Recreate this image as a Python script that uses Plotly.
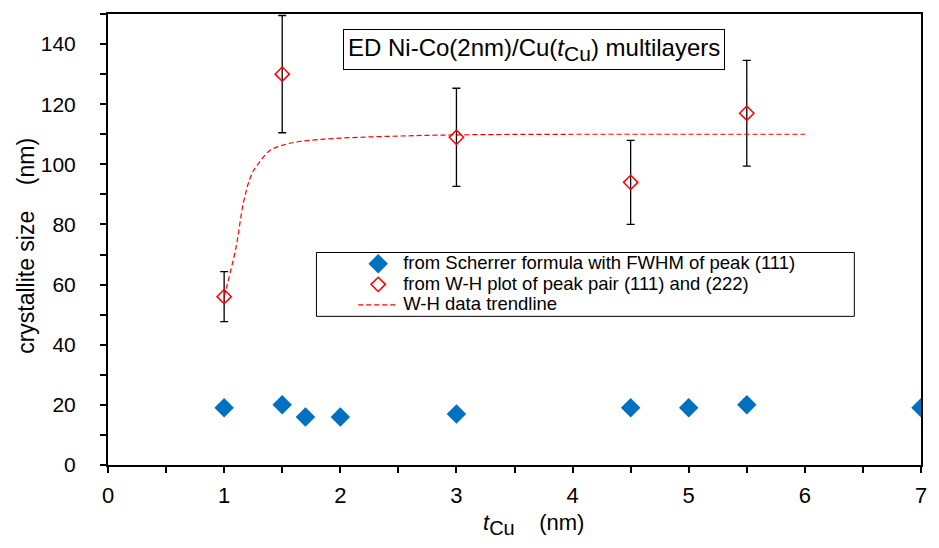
import plotly.graph_objects as go

# Crystallite size from the Scherrer formula (FWHM of the (111) peak)
scherrer_t = [1.0, 1.5, 1.7, 2.0, 3.0, 4.5, 5.0, 5.5, 7.0]
scherrer_size = [19, 20, 16, 16, 17, 19, 19, 20, 19]

# Crystallite size from Williamson-Hall plots of the (111)/(222) pair
wh_t = [1.0, 1.5, 3.0, 4.5, 5.5]
wh_size = [56, 130, 109, 94, 117]
wh_err = [8.3, 19.5, 16.3, 14.0, 17.6]

# Trendline through the W-H data
trend_t = [1.0, 1.1, 1.17, 1.24, 1.3, 1.39, 1.5, 1.65, 2.0, 2.5, 3.0, 4.0, 5.0, 6.0]
trend_size = [56, 72, 88, 97, 100.5, 104.5, 106.3, 107.6, 108.7, 109.4, 109.8, 110, 110, 110]

x_ticks = [0, 1, 2, 3, 4, 5, 6, 7]
y_ticks = [0, 20, 40, 60, 80, 100, 120, 140]

FONT = "Liberation Sans, Arial, sans-serif"
LEGEND_PX = 18.5


def legend_label(text):
    return f'<span style="font-size:{LEGEND_PX}px">{text}</span>'


def t_cu(sub_px):
    return f'<i>t</i><sub><span style="font-size:{sub_px}px">Cu</span></sub>'


fig = go.Figure()

fig.add_trace(go.Scatter(
    x=scherrer_t, y=scherrer_size, mode="markers",
    name=legend_label("from Scherrer formula with FWHM of peak (111)"),
    marker=dict(symbol="diamond", size=15, color="#0070C0"),
))

fig.add_trace(go.Scatter(
    x=wh_t, y=wh_size, mode="markers",
    name=legend_label("from W-H plot of peak pair (111) and (222)"),
    marker=dict(symbol="diamond-open", size=11, color="#FF0000",
                line=dict(width=1.5, color="#FF0000")),
    error_y=dict(type="data", array=wh_err, visible=True,
                 color="black", thickness=1.3, width=4),
))

fig.add_trace(go.Scatter(
    x=trend_t, y=trend_size, mode="lines",
    name=legend_label("W-H data trendline"),
    line=dict(color="#FF0000", width=1.2, dash="5px,3px", shape="spline"),
))

# Legend frame
fig.add_shape(type="rect", xref="paper", yref="paper",
              x0=0.2564, x1=0.918, y0=0.3296, y1=0.4712,
              line=dict(color="black", width=1), fillcolor="white", layer="below")

# Sample label box
fig.add_annotation(
    x=0.5234, y=0.9215, xref="paper", yref="paper",
    xanchor="center", yanchor="middle",
    text="ED Ni-Co(2nm)/Cu(" + t_cu(21) + ") multilayers",
    showarrow=False, font=dict(family=FONT, size=24, color="black"),
    bordercolor="black", borderwidth=1, borderpad=4, bgcolor="white",
)

# x-axis title
fig.add_annotation(
    x=0.5235, y=-0.132, xref="paper", yref="paper",
    xanchor="center", yanchor="middle",
    text=t_cu(20) + "    (nm)",
    showarrow=False, font=dict(family=FONT, size=22, color="black"),
)

fig.update_layout(
    width=939, height=548,
    margin=dict(l=108, r=12, t=13, b=83),
    paper_bgcolor="white", plot_bgcolor="white",
    font=dict(family=FONT, size=22, color="black"),
    showlegend=True,
    legend=dict(
        x=0.3016, y=0.480, xanchor="left", yanchor="top",
        bgcolor="rgba(0,0,0,0)", borderwidth=0,
        font=dict(family=FONT, size=13.5, color="black"),
        itemwidth=40, tracegroupgap=0,
    ),
)

fig.update_xaxes(
    range=[0, 7], tickvals=x_ticks, ticktext=[str(v) for v in x_ticks],
    showgrid=False, zeroline=False,
    showline=True, linecolor="black", linewidth=2, mirror=True,
    ticks="outside", ticklen=6, tickwidth=1.5, tickcolor="black",
    minor=dict(dtick=0.5, ticks="outside", ticklen=6, tickwidth=1.5, tickcolor="black"),
    tickfont=dict(size=22), ticklabelstandoff=4,
)

fig.update_yaxes(
    range=[0, 150], tickvals=y_ticks, ticktext=[str(v) for v in y_ticks],
    showgrid=False, zeroline=False,
    showline=True, linecolor="black", linewidth=2, mirror=True,
    ticks="outside", ticklen=6, tickwidth=1.5, tickcolor="black",
    minor=dict(dtick=10, ticks="outside", ticklen=6, tickwidth=1.5, tickcolor="black"),
    tickfont=dict(size=21), ticklabelstandoff=20,
    title=dict(text="crystallite size    (nm)&nbsp;&nbsp;", font=dict(size=23), standoff=0),
)

fig.write_html("out.html")
